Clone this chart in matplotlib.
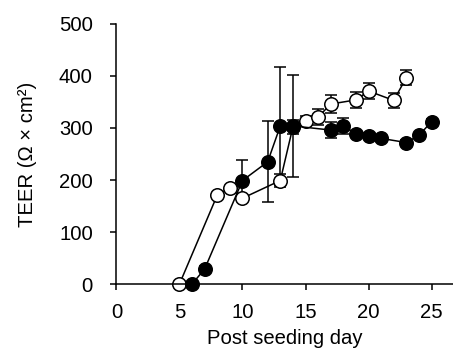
import matplotlib
matplotlib.use("Agg")
import matplotlib.pyplot as plt

plt.rcParams['font.family'] = ['Liberation Sans', 'DejaVu Sans']

# open circles
open_day = [5, 8, 9, 10, 13, 14, 15, 16, 17, 19, 20, 22, 23]
open_teer = [0, 171, 185, 165, 199, 302, 313, 321, 346, 354, 371, 353, 397]
open_err = [0, 0, 0, 0, 12, 14, 10, 15, 18, 16, 16, 14, 15]

# filled circles
filled_day = [6, 7, 10, 12, 13, 14, 17, 18, 19, 20, 21, 23, 24, 25]
filled_teer = [0, 29, 199, 235, 304, 304, 296, 304, 289, 285, 280, 272, 286, 312]
filled_err = [0, 5, 39, 78, 113, 98, 16, 15, 5, 5, 5, 5, 5, 5]

fig = plt.figure(figsize=(4.53, 3.52), dpi=100)
ax = fig.add_axes([0.257, 0.193, 0.743, 0.739])

eb = dict(fmt='none', ecolor='black', elinewidth=1.1, capsize=4.3, capthick=1.1, zorder=1)
ax.errorbar(open_day, open_teer, yerr=open_err, **eb)
ax.errorbar(filled_day, filled_teer, yerr=filled_err, **eb)

ax.plot(open_day, open_teer, '-o', color='black', lw=1.1, ms=9.7,
        mfc='white', mec='black', mew=1.1, zorder=2, clip_on=False)
ax.plot(filled_day, filled_teer, '-o', color='black', lw=1.1, ms=9.7,
        mfc='black', mec='black', mew=1.1, zorder=3, clip_on=False)

ax.set_xlim(0, 26.7)
ax.set_ylim(0, 500)
ax.set_xticks([0, 5, 10, 15, 20, 25])
ax.set_yticks([0, 100, 200, 300, 400, 500])

for s in ['top', 'right']:
    ax.spines[s].set_visible(False)
for s in ['left', 'bottom']:
    ax.spines[s].set_linewidth(1.1)

ax.tick_params(axis='y', direction='out', length=4.5, width=1.1, pad=12.5, labelsize=14.6)
ax.tick_params(axis='x', direction='out', length=4.5, width=1.1, pad=9, labelsize=14.6)

ax.set_xlabel('Post seeding day', fontsize=14.6, labelpad=5)
ax.set_ylabel('TEER (Ω × cm²)', fontsize=14.6, labelpad=16)

fig.savefig('out.png', dpi=100)
